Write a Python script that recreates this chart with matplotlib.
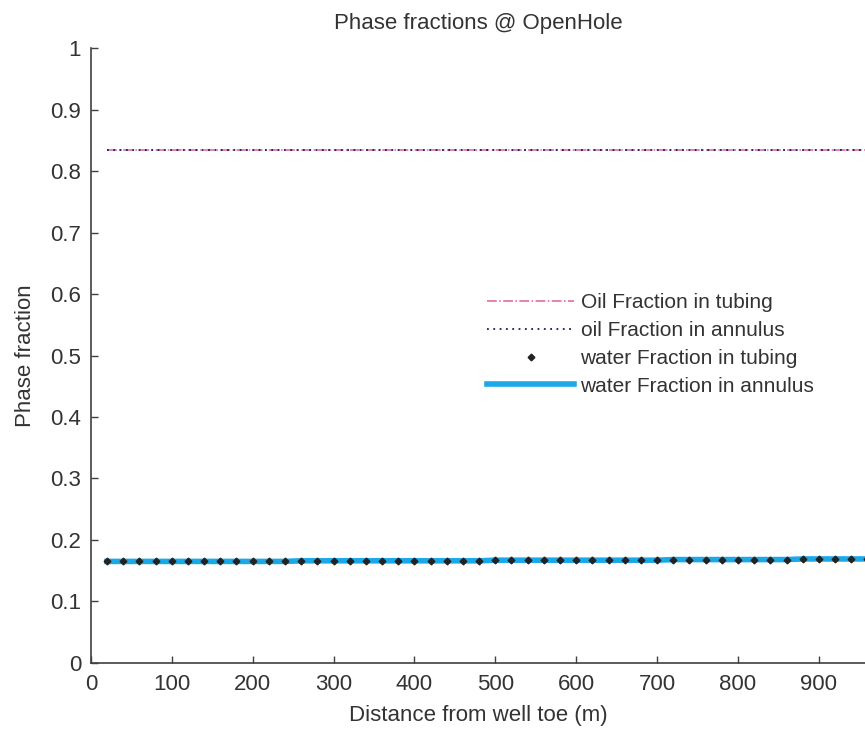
import matplotlib.pyplot as plt

plt.rcParams["font.family"] = ["Liberation Sans", "DejaVu Sans"]

# distance from well toe (m)
distance = [20, 40, 60, 80, 100, 120, 140, 160, 180, 200,
            220, 240, 260, 280, 300, 320, 340, 360, 380, 400,
            420, 440, 460, 480, 500, 520, 540, 560, 580, 600,
            620, 640, 660, 680, 700, 720, 740, 760, 780, 800,
            820, 840, 860, 880, 900, 920, 940, 960]

oil_tubing = [0.835, 0.835, 0.835, 0.835, 0.835, 0.835, 0.835, 0.835, 0.835, 0.835,
              0.835, 0.835, 0.835, 0.835, 0.835, 0.835, 0.835, 0.835, 0.835, 0.835,
              0.835, 0.835, 0.835, 0.835, 0.835, 0.835, 0.835, 0.835, 0.835, 0.835,
              0.835, 0.835, 0.835, 0.835, 0.835, 0.835, 0.835, 0.835, 0.835, 0.835,
              0.835, 0.835, 0.835, 0.835, 0.835, 0.835, 0.835, 0.835]
oil_annulus = oil_tubing

water_tubing = [0.165, 0.165, 0.165, 0.165, 0.165, 0.165, 0.165, 0.165, 0.165, 0.165,
                0.165, 0.165, 0.166, 0.166, 0.166, 0.166, 0.166, 0.166, 0.166, 0.166,
                0.166, 0.166, 0.166, 0.166, 0.167, 0.167, 0.167, 0.167, 0.167, 0.167,
                0.167, 0.167, 0.167, 0.167, 0.167, 0.168, 0.168, 0.168, 0.168, 0.168,
                0.168, 0.168, 0.168, 0.169, 0.169, 0.169, 0.169, 0.169]
water_annulus = water_tubing

fs = 16

fig = plt.figure(figsize=(8.65, 7.3), dpi=100)
ax = fig.add_axes([0.105, 0.092, 0.895, 0.842])

ax.plot(distance, oil_tubing, color="#e0609a", linestyle="-.", linewidth=1.1,
        label="Oil Fraction in tubing")
ax.plot(distance, oil_annulus, color="#1a1a6a", linestyle=(0, (1, 2.5)), linewidth=1.3,
        label="oil Fraction in annulus")
ax.plot(distance, water_tubing, color="#222222", linestyle="none", marker="D",
        markersize=3.4, label="water Fraction in tubing", zorder=4)
ax.plot(distance, water_annulus, color="#1aa8e8", linewidth=4.0,
        label="water Fraction in annulus", zorder=3)

ax.set_xlim(0, 957)
ax.set_ylim(0, 1)
ax.set_xticks([0, 100, 200, 300, 400, 500, 600, 700, 800, 900])
ax.set_yticks([0, 0.1, 0.2, 0.3, 0.4, 0.5, 0.6, 0.7, 0.8, 0.9, 1])
ax.set_yticklabels(["0", "0.1", "0.2", "0.3", "0.4", "0.5", "0.6", "0.7", "0.8", "0.9", "1"])

for s in ["top", "right"]:
    ax.spines[s].set_visible(False)
for s in ["left", "bottom"]:
    ax.spines[s].set_color("#404040")
    ax.spines[s].set_linewidth(1.2)
ax.tick_params(direction="in", length=5, width=1.0, color="#404040",
               labelsize=fs, labelcolor="#333333")
ax.tick_params(axis="x", pad=8)
ax.tick_params(axis="y", pad=7)

ax.set_title("Phase fractions @ OpenHole", fontsize=fs, color="#333333", pad=14)
ax.set_xlabel("Distance from well toe (m)", fontsize=fs, color="#333333", labelpad=7)
ax.set_ylabel("Phase fraction", fontsize=fs, color="#333333", labelpad=10)

ax.legend(loc="upper left", bbox_to_anchor=(0.498, 0.618), frameon=False, fontsize=15,
          handlelength=4.2, handletextpad=0.3, labelspacing=0.42, borderpad=0,
          labelcolor="#333333")

plt.savefig("out.png", dpi=100)
